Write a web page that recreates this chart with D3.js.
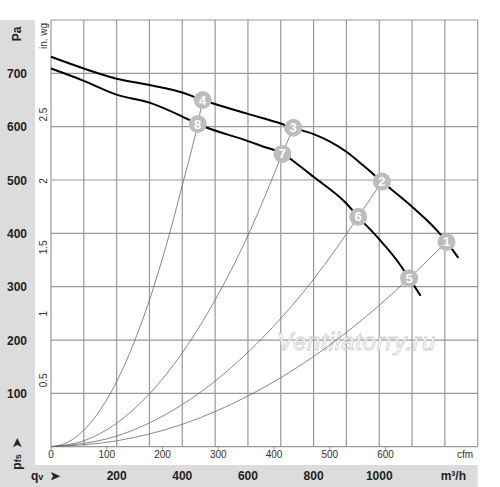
<!DOCTYPE html>
<html>
<head>
<meta charset="utf-8">
<script src="https://cdn.jsdelivr.net/npm/d3@7"></script>
<style>
  body { margin: 0; background: #fff; }
  svg text { font-family: "Liberation Sans", Arial, sans-serif; }
</style>
</head>
<body>
<div id="chart"></div>
<script>
// fan curves, [qv m3/h, pfs Pa]
const fanHigh = [[0,731],[100,709],[200,690],[300,678],[400,664],[462,650],[600,624],[700,606],[738,598],
                 [800,586],[850,572],[900,553],[950,528],[1008,497],[1100,450],[1175,406],[1205,384],[1241,354]];
const fanLow = [[0,709],[100,686],[200,660],[300,645],[400,619],[447,605],[600,573],[650,562],[705,550],
                [750,530],[800,506],[900,456],[936,431],[1000,389],[1053,350],[1091,316],[1126,283]];

// system curves from origin to operating points
const sysA = [[0,0],[50,8],[100,31],[150,69],[200,122],[250,191],[300,275],[350,375],[400,490],[447,605],[462,650]];
const sysB = [[0,0],[100,11],[200,44],[300,99],[400,176],[500,275],[600,396],[705,549],[738,598]];
const sysC = [[0,0],[200,20],[400,79],[600,177],[800,314],[936,431],[1008,497]];
const sysD = [[0,0],[200,11],[400,42],[600,95],[800,169],[1000,265],[1091,316],[1205,384]];

const points = [
  {n: 1, q: 1205, p: 384}, {n: 2, q: 1008, p: 497}, {n: 3, q: 738, p: 598}, {n: 4, q: 462, p: 650},
  {n: 5, q: 1091, p: 316}, {n: 6, q: 936, p: 431}, {n: 7, q: 705, p: 549}, {n: 8, q: 447, p: 605}
];

const qvTicks = [200, 400, 600, 800, 1000];
const paTicks = [100, 200, 300, 400, 500, 600, 700];
const cfmTicks = [0, 100, 200, 300, 400, 500, 600];
const inwgTicks = [0.5, 1, 1.5, 2, 2.5];

const W = 500, H = 487;
const plotL = 51, plotR = 477.7, plotT = 20, plotB = 446.7;

const svg = d3.select("#chart").append("svg")
    .attr("width", W)
    .attr("height", H);

const x = d3.scaleLinear().domain([0, 1300]).range([plotL, plotR]);
const y = d3.scaleLinear().domain([0, 800]).range([plotB, plotT]);
const xCfm = d3.scaleLinear().domain([0, 1300 / 1.699]).range([plotL, plotR]);
const yIn = d3.scaleLinear().domain([0, 800 / 249.09]).range([plotB, plotT]);

// gray bands
svg.append("rect").attr("x", 0).attr("y", plotT).attr("width", 35).attr("height", H - plotT).attr("fill", "#dcdcdc");
svg.append("rect").attr("x", 0).attr("y", 465).attr("width", plotR).attr("height", H - 465).attr("fill", "#dcdcdc");

// grid
const grid = svg.append("g").attr("stroke", "#999").attr("stroke-width", 1.2);
grid.selectAll(".gx").data(d3.range(0, 1301, 100)).enter().append("line")
    .attr("x1", d => x(d)).attr("x2", d => x(d))
    .attr("y1", plotT).attr("y2", plotB);
grid.selectAll(".gy").data(d3.range(0, 801, 100)).enter().append("line")
    .attr("x1", plotL).attr("x2", plotR)
    .attr("y1", d => y(d)).attr("y2", d => y(d));

// watermark
svg.append("text")
    .attr("x", 277).attr("y", 350)
    .attr("textLength", 158)
    .style("font-size", "24px")
    .style("font-style", "italic")
    .attr("fill", "#fff")
    .attr("stroke", "#cccccc")
    .attr("stroke-width", 0.8)
    .text("Ventilatorry.ru");

const line = d3.line()
    .x(d => x(d[0]))
    .y(d => y(d[1]))
    .curve(d3.curveMonotoneX);

[sysA, sysB, sysC, sysD].forEach(function(s) {
    svg.append("path")
        .attr("d", line(s))
        .attr("fill", "none")
        .attr("stroke", "#6a6a6a")
        .attr("stroke-width", 0.8);
});

[fanHigh, fanLow].forEach(function(s) {
    svg.append("path")
        .attr("d", line(s))
        .attr("fill", "none")
        .attr("stroke", "#000")
        .attr("stroke-width", 2);
});

// operating points
const mk = svg.selectAll(".mk").data(points).enter().append("g")
    .attr("transform", d => `translate(${x(d.q)},${y(d.p)})`);
mk.append("circle").attr("r", 9).attr("fill", "#bdbdbd");
mk.append("text")
    .attr("y", 4.5)
    .style("text-anchor", "middle")
    .style("font-size", "13px")
    .style("font-weight", "bold")
    .attr("fill", "#fff")
    .text(d => d.n);

// Pa labels
svg.selectAll(".pa").data(paTicks).enter().append("text")
    .attr("x", 27).attr("y", d => y(d) + 4.5)
    .style("text-anchor", "end")
    .style("font-size", "12px")
    .style("font-weight", "bold")
    .attr("fill", "#222")
    .text(d => d);

svg.append("text")
    .attr("transform", "translate(21,34) rotate(-90)")
    .style("text-anchor", "middle")
    .style("font-size", "12px")
    .style("font-weight", "bold")
    .attr("fill", "#222")
    .text("Pa");

const pfs = svg.append("text")
    .attr("transform", "translate(21,454) rotate(-90)")
    .style("text-anchor", "middle")
    .style("font-size", "12px")
    .style("font-weight", "bold")
    .attr("fill", "#222");
pfs.append("tspan").text("p");
pfs.append("tspan").style("font-size", "9px").text("fs");
pfs.append("tspan").attr("dx", 6).text("➤");

// in. wg labels
svg.selectAll(".iw").data(inwgTicks).enter().append("text")
    .attr("transform", d => `translate(46.5,${yIn(d)}) rotate(-90)`)
    .style("text-anchor", "middle")
    .style("font-size", "10px")
    .attr("fill", "#333")
    .text(d => d);

svg.append("text")
    .attr("transform", "translate(46.5,36) rotate(-90)")
    .style("text-anchor", "middle")
    .style("font-size", "10px")
    .attr("fill", "#333")
    .text("in. wg");

// cfm labels
svg.selectAll(".cf").data(cfmTicks).enter().append("text")
    .attr("x", d => xCfm(d)).attr("y", 458)
    .style("text-anchor", "middle")
    .style("font-size", "10px")
    .attr("fill", "#333")
    .text(d => d);
svg.selectAll(".ct").data(cfmTicks).enter().append("line")
    .attr("x1", d => xCfm(d)).attr("x2", d => xCfm(d))
    .attr("y1", plotB).attr("y2", plotB + 3)
    .attr("stroke", "#999");

svg.append("text")
    .attr("x", 465).attr("y", 458)
    .style("text-anchor", "middle")
    .style("font-size", "10px")
    .attr("fill", "#333")
    .text("cfm");

// m3/h labels
svg.selectAll(".qv").data(qvTicks).enter().append("text")
    .attr("x", d => x(d)).attr("y", 480)
    .style("text-anchor", "middle")
    .style("font-size", "12px")
    .style("font-weight", "bold")
    .attr("fill", "#222")
    .text(d => d);

const qv = svg.append("text")
    .attr("x", 31).attr("y", 480)
    .style("font-size", "12px")
    .style("font-weight", "bold")
    .attr("fill", "#222");
qv.append("tspan").text("q");
qv.append("tspan").style("font-size", "9px").text("v");
qv.append("tspan").attr("dx", 7).text("➤");

svg.append("text")
    .attr("x", 466).attr("y", 480)
    .style("text-anchor", "end")
    .style("font-size", "12px")
    .style("font-weight", "bold")
    .attr("fill", "#222")
    .text("m³/h");
</script>
</body>
</html>
